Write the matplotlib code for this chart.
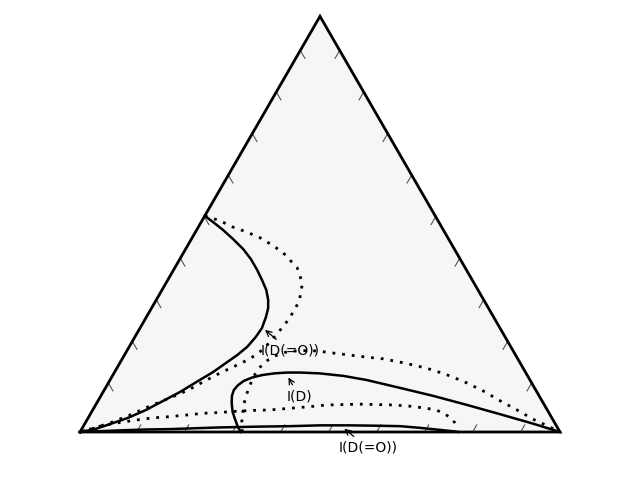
import numpy as np
import matplotlib
matplotlib.use("Agg")
import matplotlib.pyplot as plt

# ternary compositions (right-vertex fraction, top-vertex fraction); left = 1 - right - top
curve_a_right = [0.0, 0.028, 0.055, 0.087, 0.120, 0.148, 0.174, 0.196, 0.217, 0.233, 0.243, 0.249,
                 0.254, 0.252, 0.246, 0.235, 0.221, 0.205, 0.185, 0.160, 0.136, 0.111, 0.083, 0.053, 0.028, 0.0]
curve_a_top = [0.520, 0.503, 0.486, 0.464, 0.440, 0.416, 0.390, 0.366, 0.342, 0.318, 0.298, 0.277,
               0.250, 0.229, 0.205, 0.185, 0.166, 0.144, 0.123, 0.096, 0.075, 0.053, 0.034, 0.019, 0.007, 0.0]

curve_b_right = [0.0, 0.038, 0.072, 0.107, 0.142, 0.175, 0.208, 0.234, 0.255, 0.271, 0.285, 0.292, 0.299,
                 0.300, 0.299, 0.295, 0.289, 0.281, 0.266, 0.244, 0.221, 0.199, 0.175, 0.147, 0.115, 0.084,
                 0.052, 0.027, 0.0]
curve_b_top = [0.520, 0.508, 0.493, 0.481, 0.467, 0.450, 0.431, 0.411, 0.395, 0.375, 0.356, 0.337, 0.315,
               0.291, 0.269, 0.248, 0.221, 0.197, 0.176, 0.159, 0.142, 0.123, 0.101, 0.082, 0.063, 0.041,
               0.022, 0.010, 0.0]

curve_c_right = [0.335, 0.323, 0.309, 0.294, 0.281, 0.273, 0.270, 0.273, 0.280, 0.293, 0.311, 0.334,
                 0.360, 0.387, 0.429, 0.481, 0.535, 0.614, 0.692, 0.774, 0.853, 0.934, 1.0]
curve_c_top = [0.0, 0.012, 0.029, 0.048, 0.070, 0.087, 0.101, 0.113, 0.123, 0.131, 0.137, 0.141,
               0.143, 0.143, 0.141, 0.135, 0.125, 0.106, 0.087, 0.065, 0.043, 0.020, 0.0]

curve_d_right = [0.338, 0.325, 0.316, 0.308, 0.302, 0.298, 0.295, 0.297, 0.305, 0.318, 0.335, 0.360, 0.396,
                 0.432, 0.470, 0.508, 0.544, 0.583, 0.623, 0.661, 0.703, 0.747, 0.790, 0.838, 0.884, 0.928,
                 0.968, 1.0]
curve_d_top = [0.0, 0.024, 0.046, 0.067, 0.089, 0.111, 0.135, 0.156, 0.173, 0.185, 0.193, 0.196, 0.195,
               0.190, 0.185, 0.180, 0.176, 0.168, 0.159, 0.149, 0.135, 0.118, 0.099, 0.075, 0.053, 0.031,
               0.014, 0.0]

curve_e_right = [0.0, 0.017, 0.040, 0.072, 0.104, 0.135, 0.169, 0.203, 0.234, 0.268, 0.302, 0.335, 0.369,
                 0.409, 0.449, 0.482, 0.515, 0.550, 0.586, 0.620, 0.657, 0.694, 0.718, 0.739, 0.757, 0.770, 0.781]
curve_e_top = [0.0, 0.007, 0.016, 0.023, 0.029, 0.034, 0.037, 0.041, 0.045, 0.047, 0.050, 0.052, 0.053,
               0.057, 0.061, 0.065, 0.066, 0.067, 0.066, 0.065, 0.062, 0.057, 0.052, 0.043, 0.033, 0.022, 0.010]

curve_f_right = [0.0, 0.041, 0.082, 0.133, 0.184, 0.235, 0.286, 0.327, 0.369, 0.430, 0.492, 0.555, 0.617,
                 0.660, 0.703, 0.730, 0.757, 0.783, 0.788]
curve_f_top = [0.0, 0.002, 0.004, 0.006, 0.007, 0.009, 0.011, 0.012, 0.013, 0.014, 0.016, 0.016, 0.015,
               0.014, 0.010, 0.007, 0.004, 0.001, 0.0]

tick_fracs = [0.118, 0.218, 0.318, 0.418, 0.518, 0.618, 0.718, 0.818, 0.918]

labels = ["I(D(=O))", "I(D)", "I(D(=O))"]
label_right = [0.256, 0.363, 0.540]
label_top = [0.250, 0.137, 0.012]

H = np.sqrt(3) / 2


def project(right, top):
    right = np.asarray(right, dtype=float)
    top = np.asarray(top, dtype=float)
    return right + top / 2, top * H


fig = plt.figure(figsize=(6.4, 4.8), dpi=100)
ax = fig.add_axes([0, 0, 1, 1])
ax.set_xlim(-1 / 6, 7 / 6)
ax.set_ylim(-0.1, 0.9)
ax.axis("off")

# triangle
tx, ty = project([0, 1, 0, 0], [0, 0, 1, 0])
ax.fill(tx, ty, color="#f6f6f6", zorder=0)
ax.plot(tx, ty, color="black", lw=2, zorder=3, solid_joinstyle="miter")

# ticks
tl = 0.019
for s in tick_fracs:
    x, y = project(0, s)
    ax.plot([x, x + 0.5 * tl], [y, y - H * tl], color="#555555", lw=0.8, zorder=1)
    x, y = project(1 - s, s)
    ax.plot([x, x - 0.5 * tl], [y, y - H * tl], color="#555555", lw=0.8, zorder=1)
    x, y = project(s, 0)
    ax.plot([x, x + 0.5 * tl * 0.9], [y, y + H * tl * 0.9], color="#555555", lw=0.8, zorder=1)

solid = dict(color="black", lw=1.8, zorder=2, solid_joinstyle="round")
dotted = dict(color="black", lw=2, dashes=(1, 2.5), zorder=2)

ax.plot(*project(curve_a_right, curve_a_top), **solid)
ax.plot(*project(curve_b_right, curve_b_top), **dotted)
ax.plot(*project(curve_c_right, curve_c_top), **solid)
ax.plot(*project(curve_d_right, curve_d_top), **dotted)
ax.plot(*project(curve_e_right, curve_e_top), **dotted)
ax.plot(*project(curve_f_right, curve_f_top), **solid)

offsets = [(19.5, -16.5), (8.6, -15.8), (18.7, -15.1)]
for text, r, t, off in zip(labels, label_right, label_top, offsets):
    ax.annotate(text, xy=project(r, t), xytext=off, textcoords="offset points",
                ha="center", va="center", fontsize=10, zorder=4,
                arrowprops=dict(arrowstyle="->", color="black", lw=0.9))

fig.savefig("out.png", dpi=100)
